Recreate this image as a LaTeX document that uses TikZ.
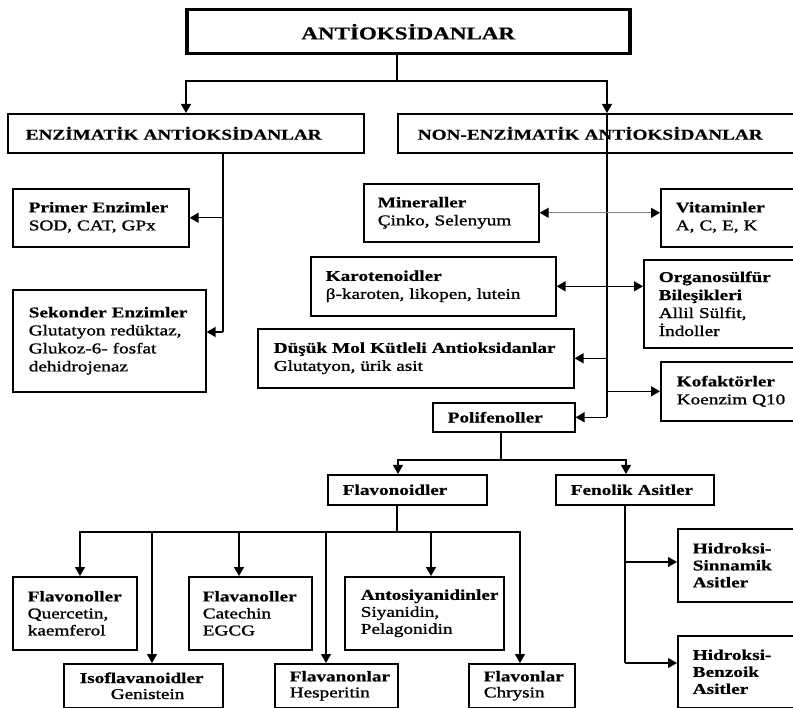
\documentclass[tikz,border=0pt]{standalone}
\usepackage{fontspec}
\setmainfont{Liberation Serif}[FakeStretch=1.28, UprightFeatures={FakeBold=1.2}, BoldFeatures={FakeBold=0.6}]
\usetikzlibrary{arrows.meta}
\begin{document}
\begin{tikzpicture}[x=1pt,y=-1pt,
  every node/.style={font=\fontsize{15}{18}\selectfont},
  bx/.style n args={3}{draw, line width=1.6pt, anchor=north west, inner xsep=0pt, inner ysep=0pt,
     text width=#1, minimum height=#2, align=left, execute at begin node={\leftskip=#3\relax}},
  ls17/.style={font=\fontsize{15}{17}\selectfont},
  ls16/.style={font=\fontsize{15}{16}\selectfont},
  ln/.style={line width=1.3pt},
  arr/.style={line width=1.3pt, -{Triangle[length=9pt,width=10pt]}},
  dbl/.style={line width=1.3pt, {Triangle[length=9pt,width=10pt]}-{Triangle[length=9pt,width=10pt]}},
  dblg/.style={line width=1.1pt, draw=black!50, {Triangle[length=9pt,width=10pt,color=black]}-{Triangle[length=9pt,width=10pt,color=black]}},
]
\useasboundingbox (0,0) rectangle (793,708);

% top
\node[draw, line width=3.5pt, anchor=north west, minimum width=443pt, minimum height=44pt, inner sep=0pt,
  font=\fontsize{18}{20}\selectfont\bfseries] (top) at (185,8) {ANTİOKSİDANLAR};

\node[bx={356pt}{39pt}{18pt}] (enz) at (7,113) {\textbf{ENZİMATİK ANTİOKSİDANLAR}};
\node[bx={400pt}{39pt}{20pt}] (non) at (397,113) {\textbf{NON-ENZİMATİK ANTİOKSİDANLAR}};

% enzymatic
\node[bx={176pt}{58pt}{16pt}] (primer) at (12,188) {\textbf{Primer Enzimler}\\SOD, CAT, GPx\vphantom{y}};
\node[bx={193pt}{102pt}{16pt}] (sek) at (12,289) {\textbf{Sekonder Enzimler}\\Glutatyon redüktaz,\\Glukoz-6- fosfat\\dehidrojenaz\\[2pt]};

% non-enzymatic
\node[bx={175pt}{58pt}{14pt}] (miner) at (363,183) {\textbf{Mineraller}\\Çinko, Selenyum};
\node[bx={140pt}{58pt}{15pt}] (vitamin) at (660,188) {\textbf{Vitaminler}\\A, C, E, K\vphantom{y}};
\node[bx={245pt}{59pt}{15pt}] (karot) at (310,256) {\textbf{Karotenoidler}\\β-karoten, likopen, lutein};
\node[bx={155pt}{88pt}{15pt}] (organo) at (643,259) {\textbf{Organosülfür}\\\textbf{Bileşikleri}\\Allil Sülfit,\\İndoller};
\node[bx={316pt}{59pt}{16pt}] (dusuk) at (257,328) {\textbf{Düşük Mol Kütleli Antioksidanlar}\\Glutatyon, ürik asit};
\node[bx={140pt}{59pt}{16pt}] (kofak) at (660,361) {\textbf{Kofaktörler}\\Koenzim Q10\\[2pt]};
\node[bx={142pt}{29pt}{15pt}] (polif) at (432,402) {\textbf{Polifenoller}};

% polyphenols
\node[bx={159pt}{30pt}{15pt}] (flavd) at (327,474) {\textbf{Flavonoidler}};
\node[bx={158pt}{30pt}{15pt}] (fenol) at (555,474) {\textbf{Fenolik Asitler}};
\node[bx={125pt}{73pt}{15pt}, ls17] (hsin) at (677,528) {\textbf{Hidroksi-}\\\textbf{Sinnamik}\\\textbf{Asitler}};
\node[bx={125pt}{72pt}{15pt}, ls17] (hben) at (677,635) {\textbf{Hidroksi-}\\\textbf{Benzoik}\\\textbf{Asitler}};

\node[bx={124pt}{73pt}{15pt}, ls17] (flavonol) at (12,576) {\textbf{Flavonoller}\\Quercetin,\\kaemferol};
\node[bx={123pt}{73pt}{14pt}, ls17] (flavanol) at (188,576) {\textbf{Flavanoller}\\Catechin\\EGCG};
\node[bx={159pt}{73pt}{16pt}, ls17] (antos) at (344,576) {\textbf{Antosiyanidinler}\\Siyanidin,\\Pelagonidin};
\node[bx={159pt}{44pt}{16pt}, ls16] (isofl) at (63,663) {\textbf{Isoflavanoidler}\\\hspace*{31pt}Genistein};
\node[bx={123pt}{44pt}{15pt}, ls16] (flavanon) at (274,663) {\textbf{Flavanonlar}\\Hesperitin};
\node[bx={106pt}{44pt}{15pt}, ls16] (flavon) at (468,663) {\textbf{Flavonlar}\\Chrysin};

% coordinates
\coordinate (j0) at (397,81);
\coordinate (xa) at (186,0);
\coordinate (xb) at (607,0);
\coordinate (xe) at (223,0);
\coordinate (ee) at (223,332);
\coordinate (p0) at (501,460);
\coordinate (xf) at (398,0);
\coordinate (xg) at (626,0);
\coordinate (f0) at (397,532);
\coordinate (d1) at (80,0);
\coordinate (d2) at (152,0);
\coordinate (d3) at (239,0);
\coordinate (d4) at (326,0);
\coordinate (d5) at (431,0);
\coordinate (d6) at (520,0);
\coordinate (ga) at (625,562);
\coordinate (gb) at (625,663);

% top connectors
\draw[ln] (top.south -| j0) -- (j0);
\draw[arr] (j0) -| (enz.north -| xa);
\draw[arr] (j0) -| (non.north -| xb);

% enzymatic trunk
\draw[ln] (enz.south -| xe) -- (ee);
\draw[arr] (primer.east -| xe) -- (primer.east);
\draw[arr] (ee) -- (sek.east |- ee);

% non-enzymatic trunk
\draw[ln] (non.north -| xb) -- (polif.east -| xb);
\draw[dblg] (miner.east) -- (miner.east -| vitamin.west);
\draw[dbl] (karot.east) -- (karot.east -| organo.west);
\draw[arr] (dusuk.east -| xb) -- (dusuk.east);
\draw[arr] (kofak.west -| xb) -- (kofak.west);
\draw[arr] (polif.east -| xb) -- (polif.east);

% polyphenols
\draw[ln] (polif.south -| p0) -- (p0);
\draw[arr] (p0) -| (flavd.north -| xf);
\draw[arr] (p0) -| (fenol.north -| xg);

% flavonoids
\draw[ln] (flavd.south -| f0) -- (f0);
\draw[arr] (f0) -| (flavonol.north -| d1);
\draw[arr] (f0) -| (isofl.north -| d2);
\draw[arr] (f0) -| (flavanol.north -| d3);
\draw[arr] (f0) -| (flavanon.north -| d4);
\draw[arr] (f0) -| (antos.north -| d5);
\draw[arr] (f0) -| (flavon.north -| d6);

% phenolic acids
\draw[ln] (fenol.south -| gb) -- (gb);
\draw[arr] (ga) -- (hsin.west |- ga);
\draw[arr] (gb) -- (hben.west |- gb);
\end{tikzpicture}
\end{document}
